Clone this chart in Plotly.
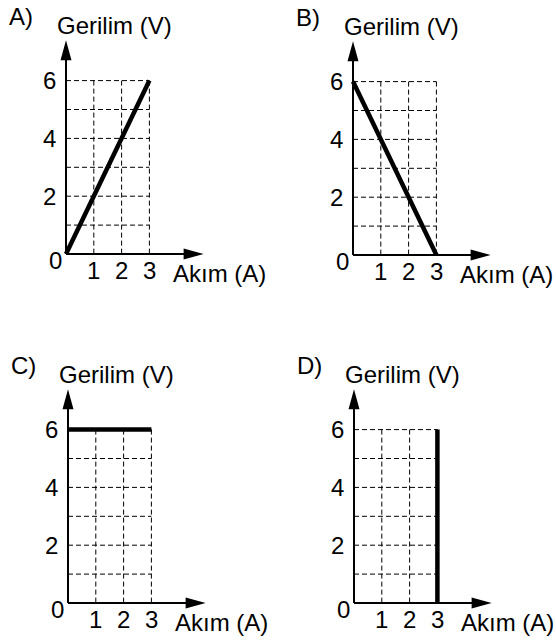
import plotly.graph_objects as go

# veriler
panel_labels = ["A)", "B)", "C)", "D)"]
akim_A = [0, 3]
gerilim_A = [0, 6]
akim_B = [0, 3]
gerilim_B = [6, 0]
akim_C = [0, 3]
gerilim_C = [6, 6]
akim_D = [3, 3]
gerilim_D = [0, 6]

x_tick_vals = [1, 2, 3]
y_tick_vals = [2, 4, 6]
grid_x = [1, 2, 3]
grid_y = [1, 2, 3, 4, 5, 6]
x_title = "Akım (A)"
y_title = "Gerilim (V)"
x_arrow = 4.95
y_arrow = 7.4

W, H = 556, 641
SX, SY = 27.8, 28.9
FONT = dict(family="Liberation Sans, Arial", size=24, color="black")
DASH = dict(color="black", width=1, dash="5px,3px")

# panel yerleşimi (piksel): orijin ve çeyrek
origins = [(66, 254), (353, 255), (68, 603), (354, 603)]
quads = [(0, 0, 278, 320), (278, 0, 556, 320), (0, 320, 278, 641), (278, 320, 556, 641)]
series = [(akim_A, gerilim_A), (akim_B, gerilim_B), (akim_C, gerilim_C), (akim_D, gerilim_D)]

fig = go.Figure()
shapes = []
annotations = []
layout = {}

for i, (label, (xs, ys)) in enumerate(zip(panel_labels, series)):
    n = "" if i == 0 else str(i + 1)
    xa, ya = "x" + n, "y" + n
    ox, oy = origins[i]
    qx0, qy0, qx1, qy1 = quads[i]
    layout["xaxis" + n] = dict(domain=[qx0 / W, qx1 / W],
                               range=[(qx0 - ox) / SX, (qx1 - ox) / SX],
                               visible=False, fixedrange=True, anchor=ya)
    layout["yaxis" + n] = dict(domain=[1 - qy1 / H, 1 - qy0 / H],
                               range=[(oy - qy1) / SY, (oy - qy0) / SY],
                               visible=False, fixedrange=True, anchor=xa)

    # kesikli ızgara
    for gx in grid_x:
        shapes.append(dict(type="line", xref=xa, yref=ya, x0=gx, x1=gx, y0=max(grid_y), y1=0,
                           layer="below", line=DASH))
    for gy in grid_y:
        shapes.append(dict(type="line", xref=xa, yref=ya, x0=0, x1=max(grid_x), y0=gy, y1=gy,
                           layer="below", line=DASH))

    # eksenler ve oklar
    shapes.append(dict(type="line", xref=xa, yref=ya, x0=0, x1=x_arrow - 10 / SX, y0=0, y1=0,
                       line=dict(color="black", width=2)))
    shapes.append(dict(type="line", xref=xa, yref=ya, x0=0, x1=0, y0=0, y1=y_arrow - 10 / SY,
                       line=dict(color="black", width=2)))
    shapes.append(dict(type="path", xref=xa, yref=ya, xsizemode="pixel", ysizemode="pixel",
                       xanchor=x_arrow, yanchor=0, path="M0,0 L-20,5.5 L-20,-5.5 Z",
                       fillcolor="black", line=dict(width=0)))
    shapes.append(dict(type="path", xref=xa, yref=ya, xsizemode="pixel", ysizemode="pixel",
                       xanchor=0, yanchor=y_arrow, path="M0,0 L-5.5,-20 L5.5,-20 Z",
                       fillcolor="black", line=dict(width=0)))

    fig.add_trace(go.Scatter(x=xs, y=ys, mode="lines", xaxis=xa, yaxis=ya,
                             line=dict(color="black", width=4.5),
                             showlegend=False, hoverinfo="skip"))

    base = dict(xref=xa, yref=ya, showarrow=False, font=FONT)
    for t in y_tick_vals:
        annotations.append(dict(base, x=0, y=t, text=str(t), xanchor="right", xshift=-8))
    annotations.append(dict(base, x=0, y=0, text="0", xanchor="right", xshift=-2, yshift=-6))
    for t in x_tick_vals:
        annotations.append(dict(base, x=t, y=0, text=str(t), yshift=-16))
    annotations.append(dict(base, x=max(x_tick_vals), y=0, text=x_title,
                            xanchor="left", xshift=22, yshift=-19))
    annotations.append(dict(base, x=0, y=y_arrow, text=y_title,
                            xanchor="left", xshift=-11, yshift=15))
    annotations.append(dict(base, x=0, y=y_arrow, text=label,
                            xanchor="left", xshift=-59, yshift=24))

fig.update_layout(width=W, height=H, margin=dict(l=0, r=0, t=0, b=0),
                  paper_bgcolor="white", plot_bgcolor="white",
                  shapes=shapes, annotations=annotations, **layout)
# sayfanın varsayılan 8px kenar boşluğunu kaldır
fig.write_html("out.html", config={"displayModeBar": False},
               post_script="document.body.style.margin='0';document.body.style.overflow='hidden';")
